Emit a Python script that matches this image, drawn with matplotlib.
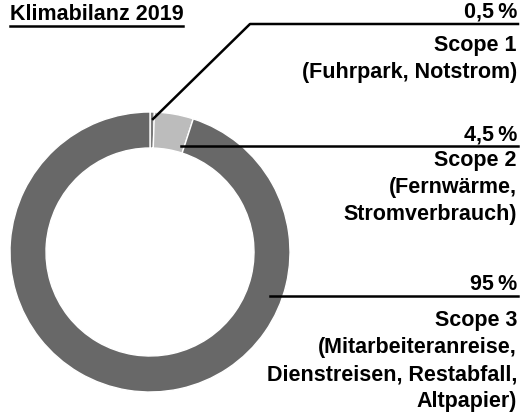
import matplotlib.pyplot as plt

# Klimabilanz 2019 - Anteile je Scope
shares = [0.5, 4.5, 95]
pct_labels = ["0,5\u2009%", "4,5\u2009%", "95\u2009%"]
scope_labels = [
    ["Scope 1", "(Fuhrpark, Notstrom)"],
    ["Scope 2", "(Fernwärme,", "Stromverbrauch)"],
    ["Scope 3", "(Mitarbeiteranreise,", "Dienstreisen, Restabfall,", "Altpapier)"],
]
colors = ["#7a7a7a", "#bcbcbc", "#686868"]

W, H = 521, 419
fig = plt.figure(figsize=(W / 100, H / 100), dpi=100)
ax = fig.add_axes([0, 0, 1, 1])
ax.set_xlim(0, W)
ax.set_ylim(0, H)
ax.set_aspect("equal")
ax.axis("off")

cx, cy, r = 150, H - 252, 140
ax.pie(shares, colors=colors, startangle=90, counterclock=False,
       center=(cx, cy), radius=r,
       wedgeprops=dict(width=36, edgecolor="white", linewidth=1.0))
ax.set_xlim(0, W)
ax.set_ylim(0, H)

font = dict(family=["Liberation Sans", "DejaVu Sans"], fontweight="bold")

# title with underline
ax.text(10, H - 20, "Klimabilanz 2019", fontsize=15.5, ha="left", va="baseline", **font)
ax.plot([10, 183], [H - 26, H - 26], color="black", lw=1.8)

# leader lines
ax.plot([153, 250, 518], [H - 119, H - 24, H - 24], color="black", lw=1.8)
ax.plot([181, 518], [H - 146, H - 146], color="black", lw=1.8)
ax.plot([270, 518], [H - 296, H - 296], color="black", lw=1.8)

xr = 517
pct_y = [18, 140, 290]
line_y = [51, 166, 326]
step = 27
for i in range(len(shares)):
    ax.text(xr, H - pct_y[i], pct_labels[i], fontsize=15.5, ha="right", va="baseline", **font)
    for j, txt in enumerate(scope_labels[i]):
        ax.text(xr, H - (line_y[i] + j * step), txt, fontsize=15.5,
                ha="right", va="baseline", **font)

fig.savefig("out.png", dpi=100, facecolor="white")
